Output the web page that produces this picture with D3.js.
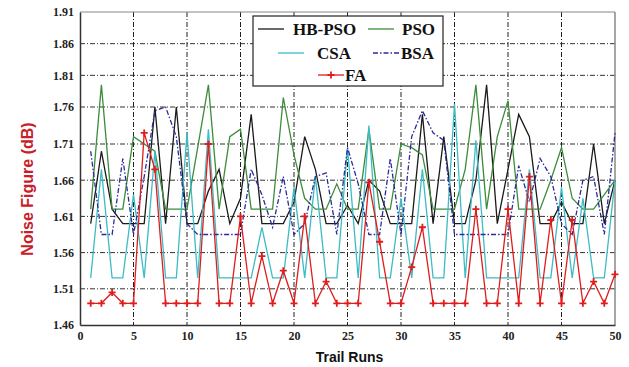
<!DOCTYPE html>
<html>
<head>
<meta charset="utf-8">
<script src="https://cdn.jsdelivr.net/npm/d3@7"></script>
<style>
  body { margin: 0; background: #fff; }
  svg { display: block; }
</style>
</head>
<body>
<script>
var runs = [1,2,3,4,5,6,7,8,9,10,11,12,13,14,15,16,17,18,19,20,21,22,23,24,25,
            26,27,28,29,30,31,32,33,34,35,36,37,38,39,40,41,42,43,44,45,46,47,48,49,50];

var hbpso = [1.60,1.70,1.62,1.60,1.60,1.60,1.76,1.60,1.76,1.60,
             1.60,1.645,1.675,1.60,1.635,1.75,1.60,1.60,1.60,1.63,
             1.72,1.675,1.60,1.60,1.625,1.60,1.66,1.645,1.60,1.60,
             1.60,1.75,1.60,1.72,1.60,1.60,1.66,1.795,1.60,1.675,
             1.75,1.72,1.60,1.60,1.63,1.60,1.60,1.71,1.60,1.66];
var pso = [1.62,1.795,1.62,1.62,1.72,1.71,1.70,1.62,1.62,1.62,
           1.705,1.795,1.62,1.72,1.73,1.62,1.62,1.62,1.775,1.695,
           1.635,1.62,1.62,1.655,1.62,1.62,1.73,1.62,1.62,1.71,
           1.705,1.695,1.62,1.62,1.62,1.675,1.795,1.62,1.72,1.77,
           1.62,1.62,1.62,1.66,1.705,1.635,1.62,1.62,1.64,1.66];
var csa = [1.525,1.675,1.525,1.525,1.64,1.525,1.70,1.525,1.525,1.725,
           1.525,1.73,1.525,1.525,1.525,1.525,1.595,1.525,1.525,1.65,
           1.525,1.665,1.525,1.525,1.705,1.525,1.735,1.525,1.525,1.635,
           1.525,1.675,1.525,1.525,1.765,1.525,1.715,1.525,1.525,1.525,
           1.525,1.675,1.525,1.525,1.65,1.525,1.635,1.525,1.525,1.66];
var bsa = [1.70,1.585,1.585,1.69,1.585,1.665,1.755,1.76,1.72,1.60,
           1.585,1.585,1.585,1.585,1.585,1.675,1.64,1.595,1.665,1.585,
           1.60,1.665,1.67,1.585,1.705,1.655,1.585,1.585,1.69,1.585,
           1.72,1.755,1.725,1.715,1.585,1.585,1.585,1.585,1.585,1.585,
           1.68,1.63,1.69,1.665,1.60,1.585,1.66,1.665,1.585,1.725];
var fa = [1.49,1.49,1.505,1.49,1.49,1.725,1.675,1.49,1.49,1.49,
          1.49,1.71,1.49,1.49,1.61,1.49,1.555,1.49,1.535,1.49,
          1.61,1.49,1.52,1.49,1.49,1.49,1.657,1.575,1.49,1.49,
          1.54,1.595,1.49,1.49,1.49,1.49,1.62,1.49,1.49,1.62,
          1.49,1.665,1.49,1.605,1.49,1.605,1.49,1.52,1.49,1.53];

var xTicks = [0,5,10,15,20,25,30,35,40,45,50];
var yTicks = [1.46,1.51,1.56,1.61,1.66,1.71,1.76,1.81,1.86,1.91];

var W = 629, H = 367;
var margin = {left: 80, top: 12, right: 14, bottom: 42};
var width = W - margin.left - margin.right;
var height = H - margin.top - margin.bottom;

var svg = d3.select("body").append("svg")
  .attr("width", W)
  .attr("height", H);

var g = svg.append("g")
  .attr("transform", "translate(" + margin.left + "," + margin.top + ")");

var x = d3.scaleLinear().domain([0, 50]).range([0, width]);
// the scanned figure is a little squashed near the top, so a piecewise scale
var y = d3.scaleLinear()
  .domain([1.46, 1.71, 1.76, 1.91])
  .range([height, height - 181, height - 218, 0]);

// grid
g.selectAll(".hgrid")
  .data(yTicks.slice(1, -1))
  .enter().append("line")
  .attr("x1", 0).attr("x2", width)
  .attr("y1", function (d) { return y(d); })
  .attr("y2", function (d) { return y(d); })
  .attr("stroke", "#333")
  .attr("stroke-width", 1)
  .attr("stroke-dasharray", "5,2,1,2");

g.selectAll(".vgrid")
  .data(xTicks.slice(1, -1))
  .enter().append("line")
  .attr("y1", 0).attr("y2", height)
  .attr("x1", function (d) { return x(d); })
  .attr("x2", function (d) { return x(d); })
  .attr("stroke", "#222")
  .attr("stroke-width", 1)
  .attr("stroke-dasharray", "5,2,1,2");

// frame
g.append("line").attr("x1", 0).attr("x2", width).attr("y1", 0).attr("y2", 0)
  .attr("stroke", "#888").attr("stroke-width", 1.2);
g.append("line").attr("x1", width).attr("x2", width).attr("y1", 0).attr("y2", height)
  .attr("stroke", "#888").attr("stroke-width", 1.5);

// axes
var xAxis = g.append("g")
  .attr("transform", "translate(0," + height + ")")
  .call(d3.axisBottom(x).tickValues(xTicks).tickSize(0).tickPadding(6));
var yAxis = g.append("g")
  .call(d3.axisLeft(y).tickValues(yTicks).tickSize(0).tickPadding(6)
    .tickFormat(d3.format(".2f")));

[xAxis, yAxis].forEach(function (a) {
  a.select(".domain").attr("stroke", "#333").attr("stroke-width", 1.5);
  a.selectAll("text")
    .style("font-family", "'Liberation Serif', 'Times New Roman', serif")
    .style("font-weight", "bold")
    .style("font-size", "12px")
    .attr("fill", "#222");
});

// series
var series = [
  {name: "HB-PSO", values: hbpso, color: "#1a1a1a", dash: null},
  {name: "PSO", values: pso, color: "#3c8c3c", dash: null},
  {name: "CSA", values: csa, color: "#3cbcc4", dash: null},
  {name: "BSA", values: bsa, color: "#2a2a9a", dash: "5,2,1.5,2"},
  {name: "FA", values: fa, color: "#e01c1c", dash: null}
];

var line = d3.line()
  .x(function (d) { return x(d[0]); })
  .y(function (d) { return y(d[1]); });

series.forEach(function (s) {
  var pts = runs.map(function (r, i) { return [r, s.values[i]]; });
  g.append("path")
    .attr("d", line(pts))
    .attr("fill", "none")
    .attr("stroke", s.color)
    .attr("stroke-width", 1.3)
    .attr("stroke-dasharray", s.dash);
});

var plus = "M-3.5,0H3.5M0,-3.5V3.5";
g.selectAll(".famark")
  .data(runs)
  .enter().append("path")
  .attr("transform", function (d, i) { return "translate(" + x(d) + "," + y(fa[i]) + ")"; })
  .attr("d", plus)
  .attr("stroke", "#e01c1c")
  .attr("stroke-width", 1.8);

// legend
var leg = svg.append("g");
leg.append("rect")
  .attr("x", 253).attr("y", 16).attr("width", 190).attr("height", 70)
  .attr("fill", "#fff").attr("stroke", "#222").attr("stroke-width", 1.2);

var legItems = [
  {s: series[0], lx: 258, tx: 293, ly: 29},
  {s: series[1], lx: 368, tx: 402, ly: 29},
  {s: series[2], lx: 278, tx: 317, ly: 53},
  {s: series[3], lx: 373, tx: 401, ly: 53},
  {s: series[4], lx: 318, tx: 345, ly: 75}
];
legItems.forEach(function (it) {
  leg.append("line")
    .attr("x1", it.lx).attr("x2", it.lx + 26)
    .attr("y1", it.ly).attr("y2", it.ly)
    .attr("stroke", it.s.color).attr("stroke-width", 1.3)
    .attr("stroke-dasharray", it.s.dash);
  if (it.s.name == "FA") {
    leg.append("path")
      .attr("transform", "translate(" + (it.lx + 13) + "," + it.ly + ")")
      .attr("d", plus).attr("stroke", it.s.color).attr("stroke-width", 1.8);
  }
  leg.append("text")
    .attr("x", it.tx).attr("y", it.ly + 6)
    .text(it.s.name)
    .style("font-family", "'Liberation Serif', 'Times New Roman', serif")
    .style("font-weight", "bold")
    .style("font-size", "17px")
    .attr("fill", "#111");
});

// axis titles
svg.append("text")
  .attr("x", margin.left + width / 2 + 2)
  .attr("y", 362)
  .attr("text-anchor", "middle")
  .text("Trail Runs")
  .style("font-family", "'Liberation Sans', Arial, sans-serif")
  .style("font-weight", "bold")
  .style("font-size", "14px")
  .attr("fill", "#111");

svg.append("text")
  .attr("transform", "translate(33,189) rotate(-90)")
  .attr("text-anchor", "middle")
  .text("Noise Figure (dB)")
  .style("font-family", "'Liberation Sans', Arial, sans-serif")
  .style("font-weight", "bold")
  .style("font-size", "16px")
  .attr("fill", "#c8202a");
</script>
</body>
</html>
